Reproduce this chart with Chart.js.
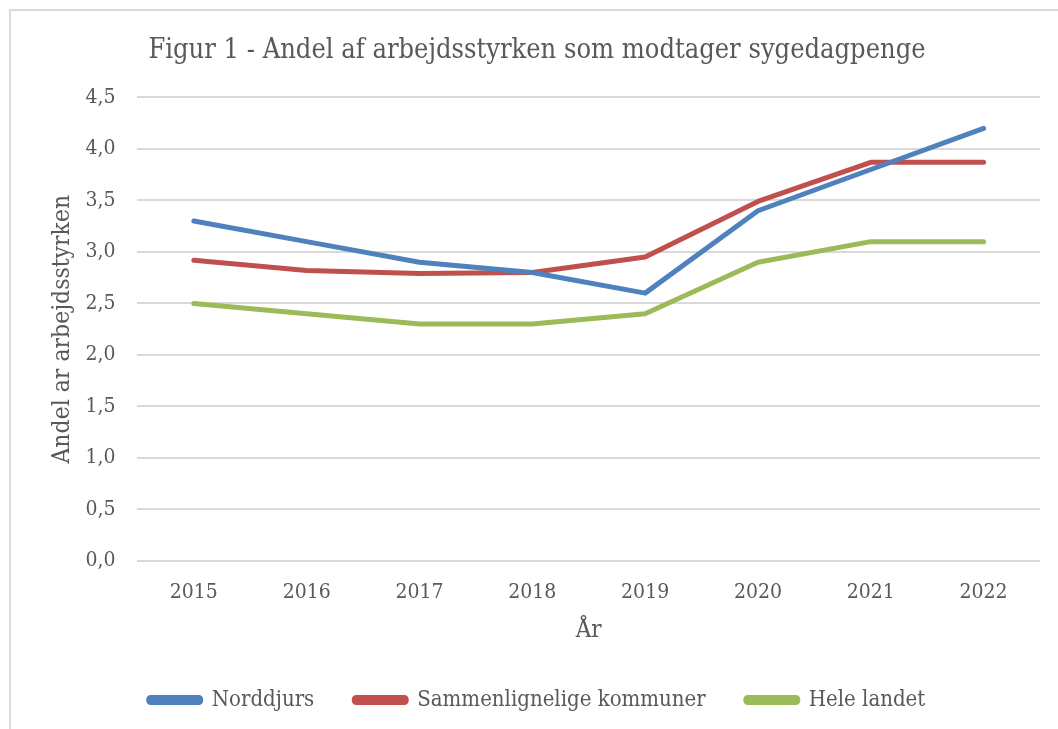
<!DOCTYPE html>
<html>
<head>
<meta charset="utf-8">
<script src="https://cdn.jsdelivr.net/npm/chart.js@4"></script>
<style>
  body { margin: 0; background: #fff; }
  #ramme { position: absolute; left: 9px; top: 9px; width: 1100px; height: 800px;
           border-left: 2px solid #d9d9d9; border-top: 2px solid #d9d9d9; }
  #holder { position: absolute; left: 0; top: 0; width: 1058px; height: 729px; }
</style>
</head>
<body>
<div id="ramme"></div>
<div id="holder"><canvas id="myChart" width="1058" height="729"></canvas></div>
<script>
// ---- DATA ----
const aar = ['2015', '2016', '2017', '2018', '2019', '2020', '2021', '2022']
const norddjurs = [3.3, 3.1, 2.9, 2.8, 2.6, 3.4, 3.8, 4.2]
const sammenlignelige = [2.92, 2.82, 2.79, 2.80, 2.95, 3.49, 3.87, 3.87]
const heleLandet = [2.5, 2.4, 2.3, 2.3, 2.4, 2.9, 3.1, 3.1]

const skrift = "'DejaVu Serif Condensed', 'Liberation Serif', serif"
const graa = '#595959'

function serie(label, data, farve){
    return {
        label: label,
        data: data,
        borderColor: farve,
        backgroundColor: farve,
        borderWidth: 5,
        pointRadius: 0,
        borderCapStyle: 'round',
        borderJoinStyle: 'round',
        tension: 0
    }
}

const config = {
    type: 'line',
    data: {
        labels: aar,
        datasets: [
            serie('Norddjurs', norddjurs, '#4f81bd'),
            serie('Sammenlignelige kommuner', sammenlignelige, '#c0504d'),
            serie('Hele landet', heleLandet, '#9bbb59')
        ]
    },
    options: {
        responsive: false,
        animation: false,
        layout: { padding: { left: 34, right: 18, top: 35, bottom: 8 } },
        plugins: {
            title: {
                display: true,
                text: 'Figur 1 - Andel af arbejdsstyrken som modtager sygedagpenge',
                color: graa,
                font: { family: skrift, size: 27, weight: 'normal' },
                padding: { top: 0, bottom: 30 }
            },
            legend: {
                position: 'bottom',
                labels: {
                    color: graa,
                    font: { family: skrift, size: 22 },
                    boxWidth: 52,
                    boxHeight: 5,
                    padding: 40,
                    useBorderRadius: true,
                    borderRadius: 2
                }
            },
            tooltip: { enabled: false }
        },
        scales: {
            x: {
                offset: true,
                grid: { display: false },
                border: { display: false },
                ticks: { color: graa, font: { family: skrift, size: 21 }, padding: 11 },
                title: { display: true, text: 'År', color: graa,
                         font: { family: skrift, size: 24 }, padding: { top: 0, bottom: 4 } }
            },
            y: {
                min: 0,
                max: 4.5,
                grid: { color: '#d9d9d9', lineWidth: 2, drawTicks: false },
                border: { display: false },
                ticks: {
                    stepSize: 0.5,
                    color: graa,
                    font: { family: skrift, size: 21 },
                    padding: 22,
                    callback: (v) => v.toFixed(1).replace('.', ',')
                },
                title: { display: true, text: 'Andel ar arbejdsstyrken', color: graa,
                         font: { family: skrift, size: 24.5 }, padding: { top: 14, bottom: -14 } }
            }
        }
    }
}

new Chart(document.querySelector('#myChart'), config)
</script>
</body>
</html>
